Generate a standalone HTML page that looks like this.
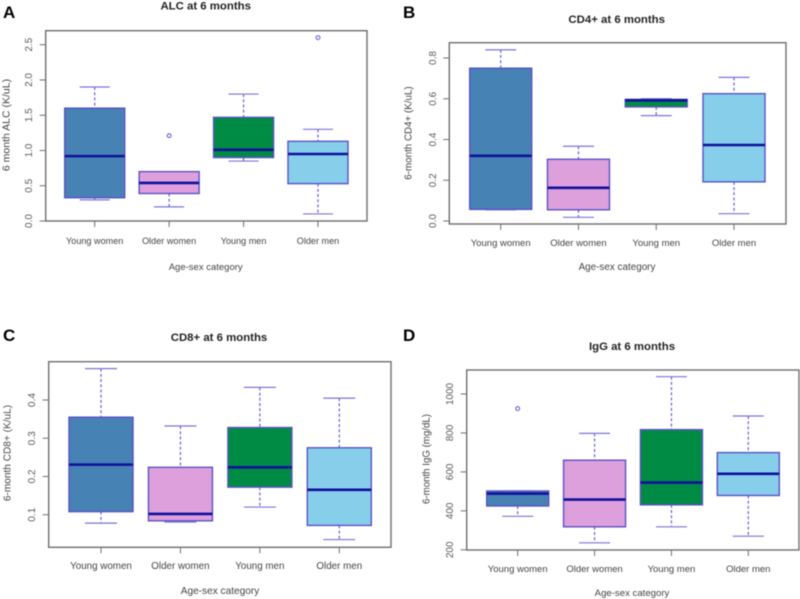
<!DOCTYPE html>
<html lang="en">
<head>
<meta charset="utf-8">
<title>Immune markers at 6 months</title>
<style>
html,body{margin:0;padding:0;background:#fff;width:800px;height:599px;overflow:hidden}
svg{display:block;filter:blur(0.4px)}
text{font-family:"Liberation Sans",sans-serif}
</style>
</head>
<body>
<svg id="chart" width="800" height="599" viewBox="0 0 800 599" xmlns="http://www.w3.org/2000/svg"></svg>
<script>
const categories = ['Young women', 'Older women', 'Young men', 'Older men'];

const alcTicks = ['0.0', '0.5', '1.0', '1.5', '2.0', '2.5'];
const alcLow = [0.30, 0.20, 0.85, 0.10];
const alcQ1 = [0.33, 0.39, 0.90, 0.53];
const alcMedian = [0.92, 0.54, 1.01, 0.95];
const alcQ3 = [1.60, 0.70, 1.47, 1.13];
const alcHigh = [1.90, 0.70, 1.80, 1.30];
const alcOutliers = [null, 1.21, null, 2.60];

const cd4Ticks = ['0.0', '0.2', '0.4', '0.6', '0.8'];
const cd4Low = [0.055, 0.018, 0.517, 0.036];
const cd4Q1 = [0.057, 0.055, 0.560, 0.192];
const cd4Median = [0.320, 0.163, 0.592, 0.373];
const cd4Q3 = [0.750, 0.303, 0.597, 0.625];
const cd4High = [0.840, 0.367, 0.600, 0.705];
const cd4Outliers = [null, null, null, null];

const cd8Ticks = ['0.1', '0.2', '0.3', '0.4'];
const cd8Low = [0.078, 0.081, 0.120, 0.035];
const cd8Q1 = [0.108, 0.084, 0.172, 0.072];
const cd8Median = [0.231, 0.102, 0.224, 0.165];
const cd8Q3 = [0.355, 0.224, 0.328, 0.275];
const cd8High = [0.482, 0.332, 0.433, 0.405];
const cd8Outliers = [null, null, null, null];

const iggTicks = ['200', '400', '600', '800', '1000'];
const iggLow = [372, 236, 318, 270];
const iggQ1 = [425, 318, 431, 479];
const iggMedian = [489, 458, 545, 590];
const iggQ3 = [502, 660, 817, 699];
const iggHigh = [502, 798, 1089, 887];
const iggOutliers = [925, null, null, null];

const fills = ['#4682B4', '#DDA0DD', '#008B45', '#87CEEB'];

const panels = [
  {id:'a', letter:'A', title:'ALC at 6 months', yTitle:'6 month ALC (K/uL)',
   ticks:alcTicks, low:alcLow, q1:alcQ1, med:alcMedian, q3:alcQ3, high:alcHigh, out:alcOutliers,
   left:45.7, right:367, top:30.7, bottom:221, v0:0, p0:221, v1:2.5, p1:44.7,
   catX0:94.7, catX1:318, half:30, tickSize:10, catSize:9.1, xSize:9.5, ySize:10.5,
   letterX:3, letterY:18, titleX:205.7, titleY:9.5, titleSize:11.4,
   yTitleX:9.5, yTitleY:125, tickX:32, catY:244, xTitleX:205.7, xTitleY:270},
  {id:'b', letter:'B', title:'CD4+ at 6 months', yTitle:'6-month CD4+ (K/uL)',
   ticks:cd4Ticks, low:cd4Low, q1:cd4Q1, med:cd4Median, q3:cd4Q3, high:cd4High, out:cd4Outliers,
   left:449.3, right:786, top:42.7, bottom:224, v0:0, p0:221, v1:0.8, p1:58,
   catX0:500.7, catX1:734, half:31, tickSize:10, catSize:9.5, xSize:9.9, ySize:9.8,
   letterX:403, letterY:18, titleX:616.7, titleY:23, titleSize:11.4,
   yTitleX:411.5, yTitleY:133, tickX:436, catY:246, xTitleX:617, xTitleY:270},
  {id:'c', letter:'C', title:'CD8+ at 6 months', yTitle:'6-month CD8+ (K/uL)',
   ticks:cd8Ticks, low:cd8Low, q1:cd8Q1, med:cd8Median, q3:cd8Q3, high:cd8High, out:cd8Outliers,
   left:48.7, right:391, top:361.7, bottom:547.3, v0:0.1, p0:514.7, v1:0.4, p1:400,
   catX0:101, catX1:339.3, half:32, tickSize:10.2, catSize:9.8, xSize:10.1, ySize:10.1,
   letterX:3, letterY:341, titleX:219, titleY:341, titleSize:11.4,
   yTitleX:10.5, yTitleY:453, tickX:35, catY:569, xTitleX:220, xTitleY:594},
  {id:'d', letter:'D', title:'IgG at 6 months', yTitle:'6-month IgG (mg/dL)',
   ticks:iggTicks, low:iggLow, q1:iggQ1, med:iggMedian, q3:iggQ3, high:iggHigh, out:iggOutliers,
   left:466.7, right:799, top:370, bottom:550, v0:200, p0:549.8, v1:1000, p1:394,
   catX0:517.7, catX1:748.3, half:31, tickSize:10, catSize:9.5, xSize:9.6, ySize:9.7,
   letterX:403, letterY:341, titleX:632, titleY:350, titleSize:11.4,
   yTitleX:429.5, yTitleY:459, tickX:453, catY:572, xTitleX:632, xTitleY:596}
];

const svg = document.getElementById('chart');
const NS = 'http://www.w3.org/2000/svg';

function make(tag, attrs, parent) {
  const el = document.createElementNS(NS, tag);
  for (const k in attrs) el.setAttribute(k, attrs[k]);
  parent.appendChild(el);
  return el;
}

function drawPanel(p) {
  const y = v => p.p0 + (v - p.v0) * (p.p1 - p.p0) / (p.v1 - p.v0);
  const x = i => p.catX0 + i * (p.catX1 - p.catX0) / (categories.length - 1);
  const axisColor = '#6e6e6e', labelColor = '#444', tickColor = '#5c5c5c', boxColor = '#5a52c6', whiskColor = '#6a5fd0', medColor = '#10109a';

  const g = make('g', {}, svg);
  
  

  const letter = make('text', {x:p.letterX, y:p.letterY, 'font-size':17, 'font-weight':'bold', fill:'#000'}, g);
  letter.textContent = p.letter;
  
  

  const title = make('text', {x:p.titleX, y:p.titleY, 'font-size':p.titleSize, 'font-weight':'bold', fill:'#222', 'text-anchor':'middle'}, g);
  title.textContent = p.title;
  
  

  const frame = make('rect', {x:p.left, y:p.top, width:p.right - p.left, height:p.bottom - p.top, fill:'#fff', stroke:axisColor, 'stroke-width':1.4}, g);
  
  

  p.ticks.forEach(t => {
    const py = y(parseFloat(t));
    const tick = make('line', {x1:p.left - 6, x2:p.left, y1:py, y2:py, stroke:axisColor, 'stroke-width':1}, g);
    
    
    const label = make('text', {x:p.tickX, y:py, 'font-size':p.tickSize, fill:tickColor, 'text-anchor':'middle', transform:'rotate(-90 ' + p.tickX + ' ' + py + ')'}, g);
    label.textContent = t;
    
    
  });

  const yTitle = make('text', {x:p.yTitleX, y:p.yTitleY, 'font-size':p.ySize, fill:labelColor, 'text-anchor':'middle', transform:'rotate(-90 ' + p.yTitleX + ' ' + p.yTitleY + ')'}, g);
  yTitle.textContent = p.yTitle;
  
  

  const xTitle = make('text', {x:p.xTitleX, y:p.xTitleY, 'font-size':p.xSize, fill:labelColor, 'text-anchor':'middle'}, g);
  xTitle.textContent = 'Age-sex category';
  
  

  categories.forEach((c, i) => {
    const cx = x(i);
    const tick = make('line', {x1:cx, x2:cx, y1:p.bottom, y2:p.bottom + 6, stroke:axisColor, 'stroke-width':1}, g);
    
    
    const label = make('text', {x:cx, y:p.catY, 'font-size':p.catSize, fill:labelColor, 'text-anchor':'middle'}, g);
    label.textContent = c;
    
    

    const box = make('g', {}, g);
    
    

    const dash = {stroke:whiskColor, 'stroke-width':1.2, 'stroke-dasharray':'3 2.2'};
    make('line', Object.assign({x1:cx, x2:cx, y1:y(p.high[i]), y2:y(p.q3[i])}, dash), box);
    make('line', Object.assign({x1:cx, x2:cx, y1:y(p.q1[i]), y2:y(p.low[i])}, dash), box);
    const capHalf = p.half / 2;
    const capStyle = {stroke:'#7d75d6', 'stroke-width':1.2};
    make('line', Object.assign({x1:cx - capHalf, x2:cx + capHalf, y1:y(p.high[i]), y2:y(p.high[i])}, capStyle), box);
    make('line', Object.assign({x1:cx - capHalf, x2:cx + capHalf, y1:y(p.low[i]), y2:y(p.low[i])}, capStyle), box);
    make('rect', {x:cx - p.half, y:y(p.q3[i]), width:p.half * 2, height:y(p.q1[i]) - y(p.q3[i]), fill:fills[i], stroke:boxColor, 'stroke-width':1.4}, box);
    make('line', {x1:cx - p.half, x2:cx + p.half, y1:y(p.med[i]), y2:y(p.med[i]), stroke:medColor, 'stroke-width':2.6}, box);
    if (p.out[i] !== null) {
      const pt = make('circle', {cx:cx, cy:y(p.out[i]), r:1.9, fill:'#fff', stroke:whiskColor, 'stroke-width':1.1}, box);
      
      
    }
  });
}

panels.forEach(drawPanel);
</script>
</body>
</html>
